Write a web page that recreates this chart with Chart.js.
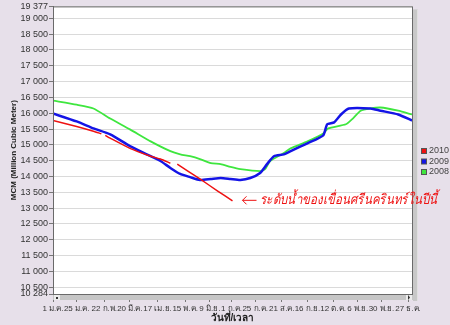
<!DOCTYPE html>
<html>
<head>
<meta charset="utf-8">
<script src="https://cdn.jsdelivr.net/npm/chart.js@4"></script>
<style>
  html, body { margin: 0; padding: 0; background: #e7e0ea; }
  canvas { display: block; }
</style>
</head>
<body>
<canvas id="damChart" width="450" height="325"></canvas>
<script>
// x axis: day of year, tick dates
const tickDays = [0, 24, 52, 78, 106, 134, 159, 181, 205, 232, 258, 284, 309, 333, 360];
const tickLabels = ['1 ม.ค.', '25 ม.ค.', '22 ก.พ.', '20 มี.ค.', '17 เม.ย.', '15 พ.ค.', '9 มิ.ย.', '1 ก.ค.',
    '25 ก.ค.', '21 ส.ค.', '16 ก.ย.', '12 ต.ค.', '6 พ.ย.', '30 พ.ย.', '27 ธ.ค.'];

// y axis ticks (MCM)
const yTicks = [10284, 10500, 11000, 11500, 12000, 12500, 13000, 13500, 14000, 14500,
    15000, 15500, 16000, 16500, 17000, 17500, 18000, 18500, 19000, 19377];

const seriesNames = ['2010', '2009', '2008'];

// 2010 (this year) - null marks a gap in the record
const days2010 = [0, 24, 41, 49, 51, 53, 58, 78, 99, 109, 119, 122, 126, 149, 167, 182];
const mcm2010 = [15770, 15580, 15430, 15350, null, 15300, 15210, 14890, 14640, 14550, 14420, null, 14390, 13920, 13540, 13230];

// 2009
const days2009 = [0, 24, 41, 58, 78, 99, 109, 119, 129, 139, 149, 160, 170, 180, 190, 200, 210, 217, 224,
    234, 241, 258, 274, 278, 285, 292, 300, 322, 332, 350, 364];
const mcm2009 = [15990, 15740, 15520, 15330, 14960, 14640, 14490, 14270, 14080, 13980, 13890, 13920, 13950,
    13920, 13890, 13950, 14110, 14390, 14640, 14700, 14800, 15050, 15300, 15650, 15710, 15960, 16150,
    16150, 16080, 15960, 15770];

// 2008
const days2008 = [0, 24, 41, 58, 78, 99, 119, 129, 139, 149, 160, 170, 180, 190, 210, 215, 220, 234, 241,
    258, 274, 279, 297, 304, 312, 322, 332, 350, 364];
const mcm2008 = [16400, 16270, 16150, 15830, 15490, 15110, 14800, 14700, 14640, 14550, 14420, 14390, 14300,
    14230, 14170, 14230, 14480, 14740, 14890, 15110, 15360, 15520, 15650, 15830, 16080, 16150, 16180,
    16080, 15960];

const seriesColors = ['#ee1111', '#1414e6', '#3ee63e'];
const noteText = 'ระดับน้ำของเขื่อนศรีนครินทร์ในปีนี้';

const FONT = '"Liberation Sans", "Noto Sans", "DejaVu Sans", sans-serif';

function toPoints(days, values) {
    return days.map((d, i) => ({ x: d, y: values[i] }));
}

function fmtThousands(v) {
    return String(Math.round(v)).replace(/\B(?=(\d{3})+(?!\d))/g, ' ');
}

// DECORATIONS
// ===========
// Background, plot frame, scrollbar strip, legend and the red note.
const decor = {
    id: 'decor',
    beforeDraw(chart) {
        const { ctx, chartArea: a } = chart;
        ctx.save();
        ctx.fillStyle = '#e7e0ea';
        ctx.fillRect(0, 0, chart.width, chart.height);
        // 3D edge on the right of the plot
        ctx.fillStyle = '#c8c8c8';
        ctx.fillRect(a.right + 1, a.top + 3, 5, a.bottom - a.top + 4);
        ctx.fillStyle = '#e0e0e0';
        ctx.fillRect(a.right + 5, a.top + 3, 1, a.bottom - a.top + 4);
        ctx.fillStyle = '#ffffff';
        ctx.fillRect(a.left, a.top, a.right - a.left, a.bottom - a.top);
        ctx.restore();
    },
    afterDraw(chart) {
        const { ctx, chartArea: a } = chart;
        ctx.save();

        // plot frame
        ctx.strokeStyle = '#6a6a6a';
        ctx.lineWidth = 1;
        ctx.strokeRect(a.left + 0.5, a.top + 0.5, a.right - a.left, a.bottom - a.top);

        // scrollbar strip under the plot
        const sy = a.bottom + 1;
        ctx.fillStyle = '#c6c6c6';
        ctx.fillRect(a.left, sy, a.right - a.left + 1, 5);
        ctx.fillStyle = '#ececec';
        ctx.fillRect(a.left + 1, sy, 6, 5);
        ctx.fillRect(a.right - 6, sy, 6, 5);
        ctx.fillStyle = '#333';
        ctx.fillRect(a.left + 3, sy + 2, 2, 2);
        ctx.beginPath();
        ctx.moveTo(a.right - 4, sy);
        ctx.lineTo(a.right - 2, sy + 2.5);
        ctx.lineTo(a.right - 4, sy + 5);
        ctx.fill();

        // legend
        const ly = [151, 161.5, 172];
        ctx.font = '9px ' + FONT;
        ctx.textBaseline = 'middle';
        seriesNames.forEach((name, i) => {
            ctx.fillStyle = '#555';
            ctx.fillRect(421, ly[i] - 3, 6, 6);
            ctx.fillStyle = seriesColors[i];
            ctx.fillRect(422, ly[i] - 2, 4, 4);
            ctx.fillStyle = '#444';
            ctx.fillText(name, 429, ly[i]);
        });

        // note next to the end of this year's line
        const xs = chart.scales.x, ys = chart.scales.y;
        const ex = xs.getPixelForValue(days2010[days2010.length - 1]);
        const ey = ys.getPixelForValue(mcm2010[mcm2010.length - 1]) - 1;
        ctx.strokeStyle = '#ee1111';
        ctx.fillStyle = '#ee1111';
        ctx.lineWidth = 1;
        ctx.beginPath();
        ctx.moveTo(ex + 10, ey + 0.5);
        ctx.lineTo(ex + 24, ey + 0.5);
        ctx.moveTo(ex + 14, ey - 3.5);
        ctx.lineTo(ex + 10, ey + 0.5);
        ctx.lineTo(ex + 14, ey + 4.5);
        ctx.stroke();
        ctx.font = 'italic 14px ' + FONT;
        ctx.textBaseline = 'middle';
        const w = ctx.measureText(noteText).width;
        ctx.translate(ex + 27, ey);
        ctx.scale(178 / w, 1);
        ctx.fillText(noteText, 0, 0);

        ctx.restore();
    }
};

new Chart(document.getElementById('damChart').getContext('2d'), {
    type: 'line',
    data: {
        datasets: [
            { label: seriesNames[0], data: toPoints(days2010, mcm2010), borderColor: seriesColors[0], borderWidth: 1.5 },
            { label: seriesNames[1], data: toPoints(days2009, mcm2009), borderColor: seriesColors[1], borderWidth: 2.5 },
            { label: seriesNames[2], data: toPoints(days2008, mcm2008), borderColor: seriesColors[2], borderWidth: 1.8 },
        ].map((ds) => ({ ...ds, pointRadius: 0, tension: 0.2, spanGaps: false, fill: false })),
    },
    options: {
        responsive: false,
        devicePixelRatio: 1,
        animation: false,
        layout: { padding: { top: 4, right: 38, left: 0, bottom: 0 } },
        plugins: {
            legend: { display: false },
            tooltip: { enabled: false },
        },
        scales: {
            x: {
                type: 'linear',
                min: 0,
                max: 364,
                afterBuildTicks: (scale) => { scale.ticks = tickDays.map((v) => ({ value: v })); },
                afterFit: (scale) => { scale.height = 31; },
                grid: { drawOnChartArea: false, drawTicks: true, tickLength: 8, tickColor: '#777' },
                border: { display: true, color: '#6a6a6a' },
                ticks: {
                    autoSkip: false,
                    maxRotation: 0,
                    padding: 2,
                    color: '#333',
                    font: { family: FONT, size: 8 },
                    callback: (v) => tickLabels[tickDays.indexOf(v)],
                },
                title: {
                    display: true,
                    text: 'วันที่/เวลา',
                    color: '#222',
                    padding: { top: 0, bottom: 1 },
                    font: { family: FONT, size: 10, weight: 'bold' },
                },
            },
            y: {
                min: 10284,
                max: 19377,
                afterBuildTicks: (scale) => { scale.ticks = yTicks.map((v) => ({ value: v })); },
                afterFit: (scale) => { scale.width = 53; },
                grid: { color: '#dadada', tickLength: 4, tickColor: '#777' },
                border: { display: true, color: '#6a6a6a' },
                ticks: {
                    autoSkip: false,
                    padding: 1,
                    color: '#333',
                    font: { family: FONT, size: 9 },
                    callback: (v) => fmtThousands(v),
                },
                title: {
                    display: true,
                    text: 'MCM (Million Cubic Meter)',
                    color: '#222',
                    padding: { top: 9, bottom: 0 },
                    font: { family: FONT, size: 8, weight: 'bold' },
                },
            },
        },
    },
    plugins: [decor],
});
</script>
</body>
</html>
